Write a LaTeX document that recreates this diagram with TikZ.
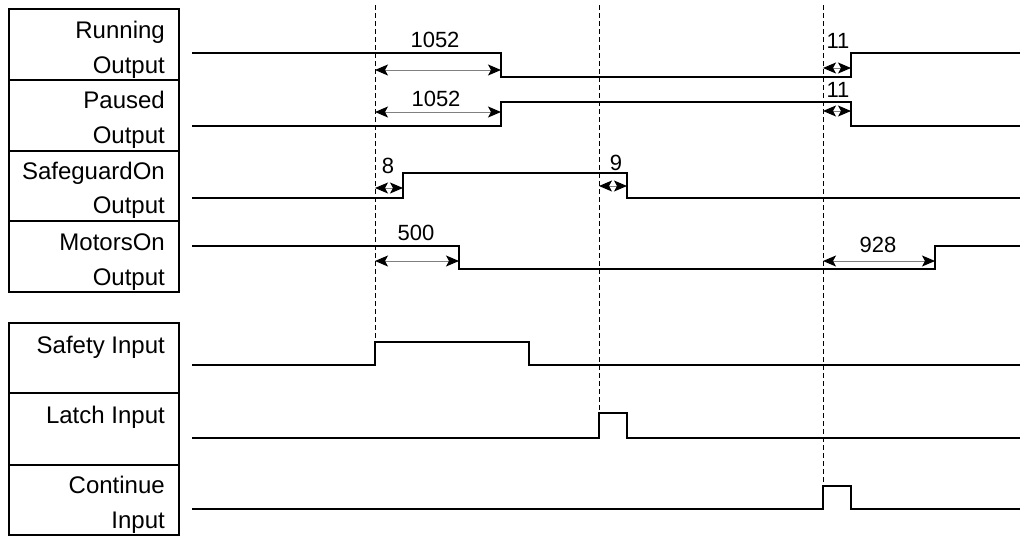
\documentclass[tikz,border=0pt]{standalone}
\usepackage{fontspec}
\setmainfont{Liberation Sans}
\usetikzlibrary{arrows.meta}

\begin{document}
\begin{tikzpicture}[
    x=1pt, y=-1pt,
    every node/.style={font=\fontsize{22}{26}\selectfont, inner sep=0pt},
    rowlabel/.style={anchor=base east, font=\fontsize{24}{28}\selectfont},
    value/.style={anchor=base},
    framebox/.style={draw, line width=2pt},
    signal/.style={line width=2pt, line join=miter},
    marker/.style={line width=1pt, dash pattern=on 5pt off 3pt},
    delay/.style={
        {Stealth[length=13pt,width=11pt,inset=3pt,black]}-{Stealth[length=13pt,width=11pt,inset=3pt,black]},
        draw=gray,
        line width=1pt
    }
]
    \useasboundingbox (0,0) rectangle (1024,536);

    % label frames
    \draw[framebox] (9,9) rectangle (179,292);
    \draw[framebox] (9,80) -- (179,80) (9,151) -- (179,151) (9,221) -- (179,221);
    \draw[framebox] (9,323) rectangle (179,535);
    \draw[framebox] (9,393) -- (179,393) (9,465) -- (179,465);

    \node[rowlabel] (running1) at (165,38) {Running};
    \node[rowlabel] (running2) at (165,73) {Output};
    \node[rowlabel] (paused1) at (165,108) {Paused};
    \node[rowlabel] (paused2) at (165,143) {Output};
    \node[rowlabel] (safeguard1) at (165,179) {SafeguardOn};
    \node[rowlabel] (safeguard2) at (165,213) {Output};
    \node[rowlabel] (motors1) at (165,250) {MotorsOn};
    \node[rowlabel] (motors2) at (165,285) {Output};
    \node[rowlabel] (safety) at (165,353) {Safety Input};
    \node[rowlabel] (latch) at (165,423) {Latch Input};
    \node[rowlabel] (continue1) at (165,493) {Continue};
    \node[rowlabel] (continue2) at (165,528) {Input};

    % event markers
    \draw[marker] (375,5) -- (375,342);
    \draw[marker] (599,5) -- (599,413);
    \draw[marker] (823,5) -- (823,486);

    % waveforms
    \draw[signal] (192,53) -- (501,53) -- (501,77) -- (851,77) -- (851,53) -- (1020,53);
    \draw[signal] (192,126) -- (501,126) -- (501,102) -- (851,102) -- (851,126) -- (1020,126);
    \draw[signal] (192,198) -- (403,198) -- (403,173) -- (627,173) -- (627,198) -- (1020,198);
    \draw[signal] (192,246) -- (459,246) -- (459,269) -- (935,269) -- (935,246) -- (1020,246);
    \draw[signal] (192,365) -- (375,365) -- (375,342) -- (529,342) -- (529,365) -- (1020,365);
    \draw[signal] (192,438) -- (599,438) -- (599,413) -- (627,413) -- (627,438) -- (1020,438);
    \draw[signal] (192,509) -- (823,509) -- (823,486) -- (851,486) -- (851,509) -- (1020,509);

    % delays
    \draw[delay] (375,70) -- (501,70);
    \node[value] (runFall) at (435,47) {1052};
    \draw[delay] (375,112) -- (501,112);
    \node[value] (pauseRise) at (436,106) {1052};
    \draw[delay] (375,188) -- (403,188);
    \node[value] (guardRise) at (388,173) {8};
    \draw[delay] (599,186) -- (627,186);
    \node[value] (guardFall) at (616,170) {9};
    \draw[delay] (823,68) -- (851,68);
    \node[value] (runRise) at (838,48) {11};
    \draw[delay] (823,111) -- (851,111);
    \node[value] (pauseFall) at (838,97) {11};
    \draw[delay] (375,261) -- (459,261);
    \node[value] (motorsFall) at (416,240) {500};
    \draw[delay] (823,261) -- (935,261);
    \node[value] (motorsRise) at (878,252) {928};
\end{tikzpicture}
\end{document}
